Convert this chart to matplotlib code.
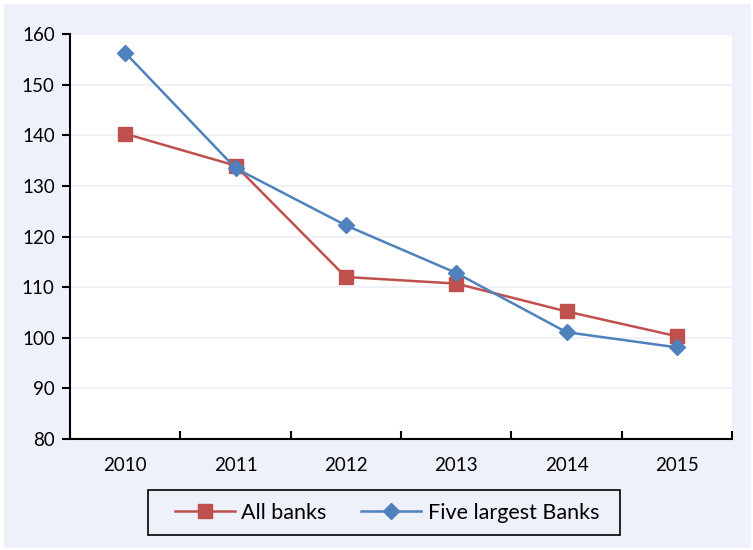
import matplotlib.pyplot as plt
from matplotlib.patches import Rectangle

years = ['2010', '2011', '2012', '2013', '2014', '2015']
all_banks = [140.3, 134.0, 112.0, 110.7, 105.2, 100.3]
five_largest = [156.3, 133.5, 122.2, 112.8, 101.1, 98.1]

plt.rcParams['font.family'] = ['Lato', 'DejaVu Sans']

fig = plt.figure(figsize=(7.53, 5.5), dpi=100)
fig.patch.set_facecolor('white')
# lavender panel behind the chart
bg = Rectangle((4 / 753, 2 / 550), 747 / 753, 544 / 550,
               transform=fig.transFigure, facecolor='#EEF1F9',
               edgecolor='none', zorder=-10)
fig.add_artist(bg)
# legend box
box = Rectangle((148 / 753, 15 / 550), 472 / 753, 45 / 550,
                transform=fig.transFigure, facecolor='none',
                edgecolor='black', lw=1.2, zorder=5)
fig.add_artist(box)

ax = fig.add_axes([70 / 753, 111 / 550, 662 / 753, 405 / 550])
ax.set_facecolor('white')

x = [i + 0.5 for i in range(len(years))]
ax.plot(x, all_banks, color='#C0504D', lw=1.8, marker='s', markersize=10.5,
        label='All banks', zorder=3)
ax.plot(x, five_largest, color='#4F81BD', lw=1.8, marker='D', markersize=8,
        label='Five largest Banks', zorder=4)

ax.set_xlim(0, len(years))
ax.set_ylim(80, 160)
ax.set_yticks(range(80, 161, 10))
ax.set_xticks(range(len(years) + 1))
ax.set_xticklabels([])
ax.set_xticks(x, minor=True)
ax.set_xticklabels(years, minor=True)
ax.tick_params(axis='x', which='minor', length=0, pad=13, labelsize=13.5)
ax.tick_params(axis='x', which='major', length=6, width=1.5, direction='in')
ax.tick_params(axis='y', length=6, width=1.5, direction='out', pad=5, labelsize=13.5)
ax.grid(axis='y', color='#EDEFF5', lw=1.2)
ax.set_axisbelow(True)

for s in ['top', 'right']:
    ax.spines[s].set_visible(False)
for s in ['left', 'bottom']:
    ax.spines[s].set_linewidth(1.5)

leg = fig.legend(loc='center', bbox_to_anchor=(387 / 753, 37 / 550), ncol=2,
                 fontsize=15.5, frameon=False, columnspacing=1.6,
                 handlelength=2.8, handletextpad=0.3, borderaxespad=0)

fig.savefig('out.png', dpi=100, facecolor=fig.get_facecolor())
